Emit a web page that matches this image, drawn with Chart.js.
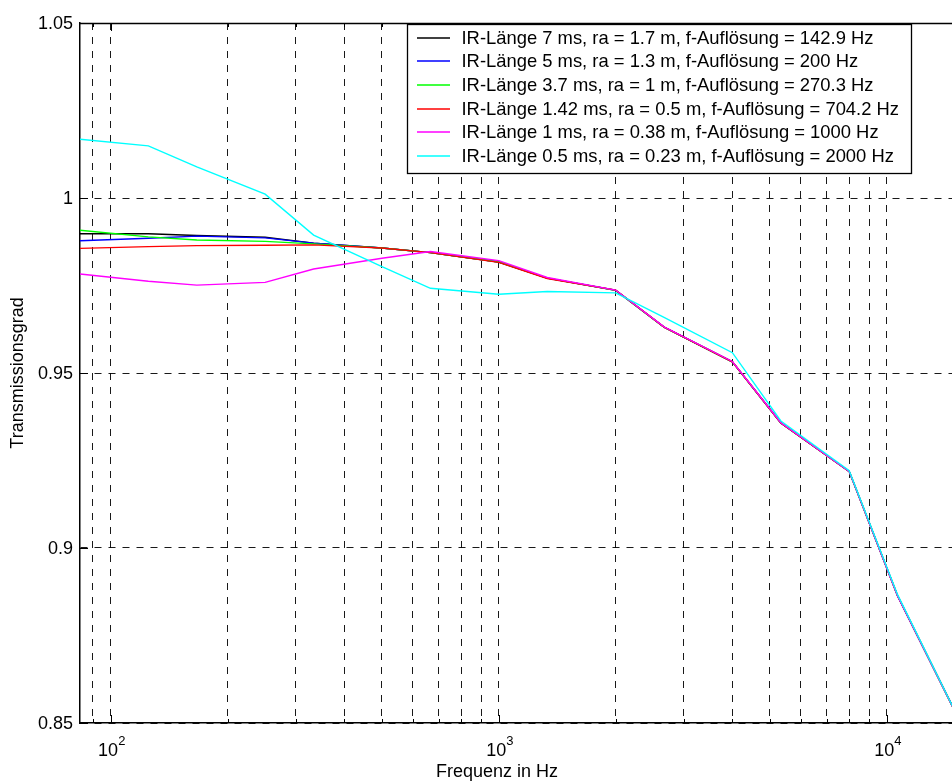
<!DOCTYPE html>
<html>
<head>
<meta charset="utf-8">
<script src="https://cdn.jsdelivr.net/npm/chart.js@4.4.1/dist/chart.umd.min.js"></script>
<style>
  html, body { margin: 0; padding: 0; background: #fff; }
  #wrap { width: 952px; height: 783px; overflow: hidden; position: relative; }
  canvas { display: block; }
</style>
</head>
<body>
<div id="wrap"><canvas id="c" width="1010" height="783"></canvas></div>
<script>
// frequencies (Hz) of the curve points
var freqHz = [83.33, 125, 166.67, 250, 333.33, 500, 666.67, 1000, 1333.33, 2000, 2666.67, 4000, 5333.33, 8000, 10666.67, 16000];

// transmission per IR length
var ir7ms   = [0.9898, 0.9898, 0.9893, 0.9888, 0.9871, 0.9857, 0.9844, 0.9817, 0.9771, 0.9737, 0.9631, 0.9532, 0.9357, 0.9219, 0.8863, 0.8470];
var ir5ms   = [0.9878, 0.9885, 0.9891, 0.9886, 0.9871, 0.9857, 0.9844, 0.9817, 0.9771, 0.9736, 0.9631, 0.9532, 0.9357, 0.9219, 0.8863, 0.8470];
var ir37ms  = [0.9908, 0.9889, 0.9880, 0.9876, 0.9869, 0.9857, 0.9844, 0.9817, 0.9771, 0.9736, 0.9631, 0.9532, 0.9357, 0.9219, 0.8863, 0.8470];
var ir142ms = [0.9856, 0.9861, 0.9864, 0.9865, 0.9866, 0.9857, 0.9844, 0.9816, 0.9770, 0.9737, 0.9631, 0.9532, 0.9357, 0.9219, 0.8863, 0.8470];
var ir1ms   = [0.9783, 0.9762, 0.9751, 0.9759, 0.9797, 0.9828, 0.9847, 0.9821, 0.9773, 0.9737, 0.9632, 0.9533, 0.9358, 0.9219, 0.8862, 0.8470];
var ir05ms  = [1.0168, 1.0149, 1.0089, 1.0011, 0.9894, 0.9804, 0.9742, 0.9725, 0.9733, 0.9729, 0.9659, 0.9558, 0.9363, 0.9221, 0.8866, 0.8470];

var seriesLabels = [
  'IR-Länge 7 ms, ra = 1.7 m, f-Auflösung = 142.9 Hz',
  'IR-Länge 5 ms, ra = 1.3 m, f-Auflösung = 200 Hz',
  'IR-Länge 3.7 ms, ra = 1 m, f-Auflösung = 270.3 Hz',
  'IR-Länge 1.42 ms, ra = 0.5 m, f-Auflösung = 704.2 Hz',
  'IR-Länge 1 ms, ra = 0.38 m, f-Auflösung = 1000 Hz',
  'IR-Länge 0.5 ms, ra = 0.23 m, f-Auflösung = 2000 Hz'
];
var seriesColors = ['#000000', '#0000ff', '#00ff00', '#ff0000', '#ff00ff', '#00ffff'];
var seriesValues = [ir7ms, ir5ms, ir37ms, ir142ms, ir1ms, ir05ms];

// axis ticks / grid
var xGridHz = [90, 100, 200, 300, 400, 500, 600, 700, 800, 900, 1000, 2000, 3000, 4000, 5000, 6000, 7000, 8000, 9000, 10000];
var xLabelHz = [100, 1000, 10000];
var xLabelExp = ['2', '3', '4'];
var yTicks = [0.85, 0.9, 0.95, 1, 1.05];
var yTickLabels = ['0.85', '0.9', '0.95', '1', '1.05'];

var FONT = '"Liberation Sans", Arial, Helvetica, sans-serif';

var datasets = seriesValues.map(function (vals, i) {
  return {
    label: seriesLabels[i],
    data: freqHz.map(function (f, k) { return { x: f, y: vals[k] }; }),
    borderColor: seriesColors[i],
    backgroundColor: seriesColors[i],
    borderWidth: 1.4,
    pointRadius: 0,
    tension: 0,
    fill: false,
    order: seriesValues.length - i   // later series on top, like matlab
  };
});

// matlab-ish decorations: box top, inner ticks, tick labels, titles, legend
var matlabDeco = {
  id: 'matlabDeco',
  afterDraw: function (chart) {
    var ctx = chart.ctx, a = chart.chartArea;
    var xs = chart.scales.x, ys = chart.scales.y;
    ctx.save();

    // top axis line
    ctx.strokeStyle = '#000';
    ctx.lineWidth = 1.5;
    ctx.beginPath();
    ctx.moveTo(a.left, a.top + 0.5);
    ctx.lineTo(a.right, a.top + 0.5);
    ctx.stroke();

    // inner ticks
    ctx.lineWidth = 1;
    xGridHz.forEach(function (v) {
      var px = Math.round(xs.getPixelForValue(v)) + 0.5;
      var len = xLabelHz.indexOf(v) >= 0 ? 8 : 4;
      ctx.beginPath();
      ctx.moveTo(px, a.bottom); ctx.lineTo(px, a.bottom - len);
      ctx.moveTo(px, a.top); ctx.lineTo(px, a.top + len);
      ctx.stroke();
    });
    yTicks.forEach(function (v) {
      var py = Math.round(ys.getPixelForValue(v)) + 0.5;
      ctx.beginPath();
      ctx.moveTo(a.left, py); ctx.lineTo(a.left + 8, py);
      ctx.stroke();
    });

    // y tick labels
    ctx.fillStyle = '#000';
    ctx.font = '18px ' + FONT;
    ctx.textAlign = 'right';
    ctx.textBaseline = 'middle';
    yTicks.forEach(function (v, i) {
      ctx.fillText(yTickLabels[i], a.left - 7, ys.getPixelForValue(v) + 1);
    });

    // x tick labels 10^n
    ctx.textBaseline = 'alphabetic';
    xLabelHz.forEach(function (v, i) {
      var px = xs.getPixelForValue(v);
      ctx.font = '18px ' + FONT;
      var wBase = ctx.measureText('10').width;
      ctx.font = '13px ' + FONT;
      var wExp = ctx.measureText(xLabelExp[i]).width;
      var x0 = px - (wBase + wExp) / 2 + 1;
      ctx.textAlign = 'left';
      ctx.font = '18px ' + FONT;
      ctx.fillText('10', x0, a.bottom + 33);
      ctx.font = '13px ' + FONT;
      ctx.fillText(xLabelExp[i], x0 + wBase, a.bottom + 22);
    });

    // axis titles
    ctx.font = '18px ' + FONT;
    ctx.textAlign = 'center';
    ctx.textBaseline = 'middle';
    ctx.fillText('Frequenz in Hz', 497, 772);
    ctx.save();
    ctx.translate(18, (a.top + a.bottom) / 2);
    ctx.rotate(-Math.PI / 2);
    ctx.fillText('Transmissionsgrad', 0, 0);
    ctx.restore();

    // legend box
    var lx = 407.5, ly = 24.5, lw = 504, lh = 149;
    ctx.fillStyle = '#fff';
    ctx.fillRect(lx, ly, lw, lh);
    ctx.strokeStyle = '#000';
    ctx.lineWidth = 1.3;
    ctx.strokeRect(lx, ly, lw, lh);
    ctx.font = '18.4px ' + FONT;
    ctx.textAlign = 'left';
    ctx.textBaseline = 'middle';
    chart.data.datasets.forEach(function (ds, i) {
      var ry = Math.round(37.7 + i * 23.65);
      ctx.strokeStyle = seriesColors[i];
      ctx.lineWidth = 1.6;
      ctx.beginPath();
      ctx.moveTo(417, ry);
      ctx.lineTo(450, ry);
      ctx.stroke();
      ctx.fillStyle = '#000';
      ctx.fillText(ds.label, 461.5, ry + 1);
    });

    ctx.restore();
  }
};

new Chart(document.getElementById('c'), {
  type: 'line',
  data: { datasets: datasets },
  options: {
    responsive: false,
    animation: false,
    devicePixelRatio: 1,
    layout: { padding: { top: 23, right: 44, bottom: 0, left: 0 } },
    plugins: { legend: { display: false }, tooltip: { enabled: false } },
    scales: {
      x: {
        type: 'logarithmic',
        min: 83.33,
        max: 16000,
        ticks: { display: false },
        grid: { color: 'rgba(0,0,0,0.9)', lineWidth: 1, drawTicks: false },
        border: { display: true, color: '#000', width: 1.5, dash: [7, 7] },
        afterBuildTicks: function (s) { s.ticks = xGridHz.map(function (v) { return { value: v }; }); },
        afterFit: function (s) { s.height = 60; }
      },
      y: {
        type: 'linear',
        min: 0.85,
        max: 1.05,
        ticks: { display: false },
        grid: { color: 'rgba(0,0,0,0.9)', lineWidth: 1, drawTicks: false },
        border: { display: true, color: '#000', width: 1.5, dash: [7, 7] },
        afterBuildTicks: function (s) { s.ticks = yTicks.map(function (v) { return { value: v }; }); },
        afterFit: function (s) { s.width = 80; }
      }
    }
  },
  plugins: [matlabDeco]
});
</script>
</body>
</html>
